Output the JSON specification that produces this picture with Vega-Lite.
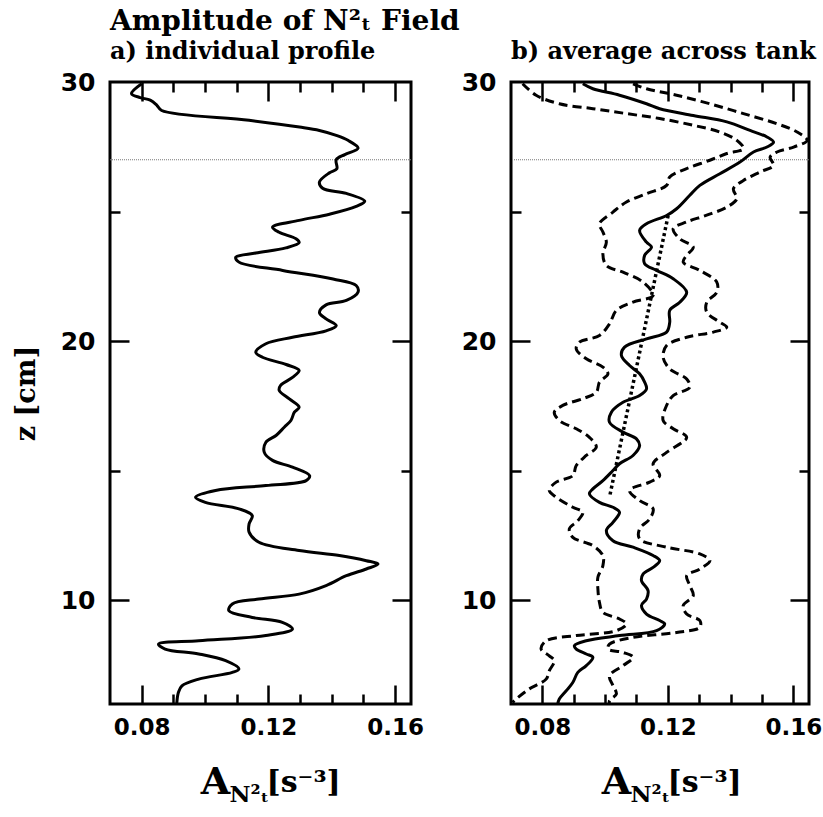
{
  "$schema": "https://vega.github.io/schema/vega-lite/v6.json",
  "padding": {"left": 10, "top": 6, "right": 0, "bottom": 0},
  "bounds": "flush",
  "spacing": 100,
  "config": {
    "view": {"stroke": "black", "strokeWidth": 3},
    "axis": {"domain": false, "grid": false, "tickColor": "black", "tickWidth": 2.5, "labelFont": "DejaVu Sans", "labelFontWeight": "bold", "labelFontSize": 23, "labelColor": "black", "titleFont": "DejaVu Serif", "titleFontWeight": "bold", "titleColor": "black", "labelFlush": false, "labelOverlap": false}
  },
  "datasets": {
    "a": [
      {"x":0.0800,"z":29.93},{"x":0.0768,"z":29.55},{"x":0.0795,"z":29.40},{"x":0.0827,"z":29.30},{"x":0.0848,"z":29.10},{"x":0.0863,"z":28.90},{"x":0.1139,"z":28.52},{"x":0.1298,"z":28.26},{"x":0.1361,"z":28.13},{"x":0.1414,"z":27.94},{"x":0.1451,"z":27.75},{"x":0.1483,"z":27.45},{"x":0.1441,"z":27.20},{"x":0.1414,"z":27.00},{"x":0.1416,"z":26.65},{"x":0.1393,"z":26.50},{"x":0.1361,"z":26.14},{"x":0.1371,"z":25.90},{"x":0.1446,"z":25.70},{"x":0.1504,"z":25.40},{"x":0.1477,"z":25.20},{"x":0.1393,"z":24.90},{"x":0.1297,"z":24.66},{"x":0.1213,"z":24.40},{"x":0.1234,"z":24.20},{"x":0.1287,"z":23.95},{"x":0.1297,"z":23.80},{"x":0.1255,"z":23.60},{"x":0.1160,"z":23.40},{"x":0.1097,"z":23.24},{"x":0.1107,"z":23.05},{"x":0.1245,"z":22.73},{"x":0.1404,"z":22.40},{"x":0.1477,"z":22.15},{"x":0.1483,"z":21.90},{"x":0.1446,"z":21.57},{"x":0.1382,"z":21.40},{"x":0.1361,"z":21.10},{"x":0.1382,"z":20.86},{"x":0.1414,"z":20.60},{"x":0.1382,"z":20.40},{"x":0.1276,"z":20.15},{"x":0.1192,"z":19.90},{"x":0.1160,"z":19.57},{"x":0.1181,"z":19.38},{"x":0.1256,"z":19.10},{"x":0.1297,"z":18.87},{"x":0.1276,"z":18.60},{"x":0.1239,"z":18.30},{"x":0.1234,"z":18.10},{"x":0.1266,"z":17.77},{"x":0.1297,"z":17.45},{"x":0.1282,"z":17.26},{"x":0.1271,"z":16.94},{"x":0.1250,"z":16.68},{"x":0.1224,"z":16.36},{"x":0.1192,"z":16.10},{"x":0.1187,"z":15.71},{"x":0.1213,"z":15.40},{"x":0.1276,"z":15.14},{"x":0.1330,"z":14.81},{"x":0.1319,"z":14.62},{"x":0.1192,"z":14.43},{"x":0.1033,"z":14.24},{"x":0.0970,"z":13.98},{"x":0.1001,"z":13.78},{"x":0.1107,"z":13.53},{"x":0.1149,"z":13.27},{"x":0.1139,"z":12.95},{"x":0.1139,"z":12.63},{"x":0.1170,"z":12.24},{"x":0.1297,"z":11.92},{"x":0.1424,"z":11.73},{"x":0.1509,"z":11.53},{"x":0.1546,"z":11.40},{"x":0.1509,"z":11.21},{"x":0.1446,"z":10.95},{"x":0.1382,"z":10.57},{"x":0.1297,"z":10.24},{"x":0.1170,"z":10.05},{"x":0.1086,"z":9.86},{"x":0.1075,"z":9.60},{"x":0.1149,"z":9.34},{"x":0.1244,"z":9.15},{"x":0.1276,"z":8.89},{"x":0.1192,"z":8.64},{"x":0.0980,"z":8.44},{"x":0.0853,"z":8.31},{"x":0.0874,"z":8.12},{"x":0.0980,"z":7.93},{"x":0.1065,"z":7.67},{"x":0.1107,"z":7.35},{"x":0.1086,"z":7.22},{"x":0.0980,"z":6.96},{"x":0.0927,"z":6.70},{"x":0.0916,"z":6.45},{"x":0.0911,"z":6.06},{"x":0.0911,"z":6.00}
    ],
    "b": [
      {"s":"mean","x":0.0929,"z":29.93},{"s":"mean","x":0.0961,"z":29.74},{"s":"mean","x":0.1046,"z":29.49},{"s":"mean","x":0.1132,"z":29.16},{"s":"mean","x":0.1174,"z":28.97},{"s":"mean","x":0.1281,"z":28.71},{"s":"mean","x":0.1388,"z":28.46},{"s":"mean","x":0.1462,"z":28.13},{"s":"mean","x":0.1516,"z":27.88},{"s":"mean","x":0.1537,"z":27.68},{"s":"mean","x":0.1516,"z":27.49},{"s":"mean","x":0.1473,"z":27.30},{"s":"mean","x":0.1430,"z":26.91},{"s":"mean","x":0.1366,"z":26.46},{"s":"mean","x":0.1302,"z":26.01},{"s":"mean","x":0.1270,"z":25.63},{"s":"mean","x":0.1228,"z":25.11},{"s":"mean","x":0.1196,"z":24.85},{"s":"mean","x":0.1132,"z":24.53},{"s":"mean","x":0.1110,"z":24.27},{"s":"mean","x":0.1132,"z":23.82},{"s":"mean","x":0.1148,"z":23.63},{"s":"mean","x":0.1126,"z":23.31},{"s":"mean","x":0.1126,"z":22.99},{"s":"mean","x":0.1164,"z":22.73},{"s":"mean","x":0.1217,"z":22.41},{"s":"mean","x":0.1260,"z":21.89},{"s":"mean","x":0.1238,"z":21.50},{"s":"mean","x":0.1206,"z":21.19},{"s":"mean","x":0.1206,"z":20.73},{"s":"mean","x":0.1196,"z":20.35},{"s":"mean","x":0.1132,"z":20.09},{"s":"mean","x":0.1062,"z":19.77},{"s":"mean","x":0.1052,"z":19.45},{"s":"mean","x":0.1078,"z":19.06},{"s":"mean","x":0.1110,"z":18.74},{"s":"mean","x":0.1126,"z":18.42},{"s":"mean","x":0.1132,"z":18.16},{"s":"mean","x":0.1110,"z":17.90},{"s":"mean","x":0.1057,"z":17.64},{"s":"mean","x":0.1020,"z":17.26},{"s":"mean","x":0.1014,"z":16.87},{"s":"mean","x":0.1057,"z":16.49},{"s":"mean","x":0.1100,"z":16.23},{"s":"mean","x":0.1110,"z":15.97},{"s":"mean","x":0.1089,"z":15.59},{"s":"mean","x":0.1046,"z":15.27},{"s":"mean","x":0.1025,"z":15.01},{"s":"mean","x":0.0993,"z":14.62},{"s":"mean","x":0.0961,"z":14.30},{"s":"mean","x":0.0950,"z":14.11},{"s":"mean","x":0.0982,"z":13.78},{"s":"mean","x":0.1025,"z":13.59},{"s":"mean","x":0.1046,"z":13.40},{"s":"mean","x":0.1025,"z":13.01},{"s":"mean","x":0.1004,"z":12.69},{"s":"mean","x":0.1025,"z":12.30},{"s":"mean","x":0.1089,"z":12.05},{"s":"mean","x":0.1153,"z":11.73},{"s":"mean","x":0.1174,"z":11.53},{"s":"mean","x":0.1153,"z":11.27},{"s":"mean","x":0.1121,"z":11.01},{"s":"mean","x":0.1116,"z":10.76},{"s":"mean","x":0.1137,"z":10.37},{"s":"mean","x":0.1132,"z":10.05},{"s":"mean","x":0.1116,"z":9.80},{"s":"mean","x":0.1132,"z":9.47},{"s":"mean","x":0.1174,"z":9.22},{"s":"mean","x":0.1190,"z":9.09},{"s":"mean","x":0.1164,"z":8.83},{"s":"mean","x":0.1046,"z":8.64},{"s":"mean","x":0.0940,"z":8.44},{"s":"mean","x":0.0902,"z":8.25},{"s":"mean","x":0.0908,"z":8.12},{"s":"mean","x":0.0940,"z":7.93},{"s":"mean","x":0.0961,"z":7.80},{"s":"mean","x":0.0940,"z":7.48},{"s":"mean","x":0.0913,"z":7.22},{"s":"mean","x":0.0897,"z":6.83},{"s":"mean","x":0.0876,"z":6.51},{"s":"mean","x":0.0854,"z":6.19},{"s":"mean","x":0.0849,"z":6.00},
      {"s":"lo","x":0.0737,"z":29.93},{"s":"lo","x":0.0780,"z":29.49},{"s":"lo","x":0.0854,"z":29.16},{"s":"lo","x":0.0961,"z":28.97},{"s":"lo","x":0.1068,"z":28.78},{"s":"lo","x":0.1174,"z":28.59},{"s":"lo","x":0.1281,"z":28.33},{"s":"lo","x":0.1366,"z":28.07},{"s":"lo","x":0.1420,"z":27.75},{"s":"lo","x":0.1441,"z":27.43},{"s":"lo","x":0.1388,"z":27.24},{"s":"lo","x":0.1334,"z":26.98},{"s":"lo","x":0.1260,"z":26.66},{"s":"lo","x":0.1206,"z":26.33},{"s":"lo","x":0.1196,"z":26.01},{"s":"lo","x":0.1132,"z":25.69},{"s":"lo","x":0.1068,"z":25.37},{"s":"lo","x":0.1025,"z":24.98},{"s":"lo","x":0.0982,"z":24.53},{"s":"lo","x":0.0993,"z":24.21},{"s":"lo","x":0.1004,"z":23.82},{"s":"lo","x":0.0993,"z":23.37},{"s":"lo","x":0.1004,"z":22.92},{"s":"lo","x":0.1057,"z":22.66},{"s":"lo","x":0.1121,"z":22.28},{"s":"lo","x":0.1153,"z":21.76},{"s":"lo","x":0.1089,"z":21.51},{"s":"lo","x":0.1036,"z":21.19},{"s":"lo","x":0.1014,"z":20.67},{"s":"lo","x":0.0982,"z":20.22},{"s":"lo","x":0.0918,"z":19.96},{"s":"lo","x":0.0908,"z":19.70},{"s":"lo","x":0.0940,"z":19.32},{"s":"lo","x":0.0993,"z":19.00},{"s":"lo","x":0.1009,"z":18.74},{"s":"lo","x":0.0982,"z":18.42},{"s":"lo","x":0.0972,"z":18.03},{"s":"lo","x":0.0929,"z":17.78},{"s":"lo","x":0.0865,"z":17.52},{"s":"lo","x":0.0838,"z":17.26},{"s":"lo","x":0.0854,"z":16.94},{"s":"lo","x":0.0908,"z":16.62},{"s":"lo","x":0.0950,"z":16.29},{"s":"lo","x":0.0972,"z":15.91},{"s":"lo","x":0.0940,"z":15.59},{"s":"lo","x":0.0908,"z":15.20},{"s":"lo","x":0.0897,"z":14.81},{"s":"lo","x":0.0844,"z":14.56},{"s":"lo","x":0.0822,"z":14.24},{"s":"lo","x":0.0844,"z":13.98},{"s":"lo","x":0.0897,"z":13.59},{"s":"lo","x":0.0929,"z":13.40},{"s":"lo","x":0.0913,"z":13.07},{"s":"lo","x":0.0886,"z":12.76},{"s":"lo","x":0.0897,"z":12.43},{"s":"lo","x":0.0961,"z":12.11},{"s":"lo","x":0.0993,"z":11.73},{"s":"lo","x":0.0993,"z":11.34},{"s":"lo","x":0.0977,"z":10.89},{"s":"lo","x":0.0977,"z":10.44},{"s":"lo","x":0.0982,"z":9.92},{"s":"lo","x":0.0993,"z":9.54},{"s":"lo","x":0.1046,"z":9.28},{"s":"lo","x":0.1068,"z":9.09},{"s":"lo","x":0.1036,"z":8.83},{"s":"lo","x":0.0908,"z":8.64},{"s":"lo","x":0.0812,"z":8.44},{"s":"lo","x":0.0796,"z":8.12},{"s":"lo","x":0.0822,"z":7.86},{"s":"lo","x":0.0838,"z":7.67},{"s":"lo","x":0.0822,"z":7.28},{"s":"lo","x":0.0812,"z":6.96},{"s":"lo","x":0.0758,"z":6.58},{"s":"lo","x":0.0716,"z":6.19},{"s":"lo","x":0.0705,"z":6.06},
      {"s":"hi","x":0.1089,"z":29.93},{"s":"hi","x":0.1132,"z":29.74},{"s":"hi","x":0.1228,"z":29.49},{"s":"hi","x":0.1334,"z":29.16},{"s":"hi","x":0.1441,"z":28.78},{"s":"hi","x":0.1548,"z":28.39},{"s":"hi","x":0.1612,"z":28.07},{"s":"hi","x":0.1644,"z":27.75},{"s":"hi","x":0.1601,"z":27.49},{"s":"hi","x":0.1548,"z":27.30},{"s":"hi","x":0.1526,"z":27.10},{"s":"hi","x":0.1537,"z":26.78},{"s":"hi","x":0.1494,"z":26.53},{"s":"hi","x":0.1441,"z":26.20},{"s":"hi","x":0.1409,"z":25.88},{"s":"hi","x":0.1420,"z":25.50},{"s":"hi","x":0.1388,"z":25.17},{"s":"hi","x":0.1324,"z":24.86},{"s":"hi","x":0.1260,"z":24.60},{"s":"hi","x":0.1217,"z":24.34},{"s":"hi","x":0.1238,"z":23.95},{"s":"hi","x":0.1281,"z":23.63},{"s":"hi","x":0.1260,"z":23.31},{"s":"hi","x":0.1249,"z":23.05},{"s":"hi","x":0.1302,"z":22.73},{"s":"hi","x":0.1356,"z":22.28},{"s":"hi","x":0.1356,"z":21.89},{"s":"hi","x":0.1324,"z":21.50},{"s":"hi","x":0.1324,"z":21.12},{"s":"hi","x":0.1366,"z":20.73},{"s":"hi","x":0.1388,"z":20.54},{"s":"hi","x":0.1345,"z":20.35},{"s":"hi","x":0.1260,"z":20.15},{"s":"hi","x":0.1196,"z":19.83},{"s":"hi","x":0.1185,"z":19.38},{"s":"hi","x":0.1206,"z":18.93},{"s":"hi","x":0.1260,"z":18.54},{"s":"hi","x":0.1270,"z":18.22},{"s":"hi","x":0.1217,"z":17.90},{"s":"hi","x":0.1196,"z":17.52},{"s":"hi","x":0.1185,"z":16.94},{"s":"hi","x":0.1217,"z":16.62},{"s":"hi","x":0.1260,"z":16.29},{"s":"hi","x":0.1196,"z":15.71},{"s":"hi","x":0.1153,"z":15.27},{"s":"hi","x":0.1174,"z":14.81},{"s":"hi","x":0.1142,"z":14.56},{"s":"hi","x":0.1078,"z":14.24},{"s":"hi","x":0.1110,"z":13.85},{"s":"hi","x":0.1153,"z":13.53},{"s":"hi","x":0.1142,"z":13.14},{"s":"hi","x":0.1110,"z":12.76},{"s":"hi","x":0.1110,"z":12.37},{"s":"hi","x":0.1196,"z":12.05},{"s":"hi","x":0.1302,"z":11.79},{"s":"hi","x":0.1334,"z":11.53},{"s":"hi","x":0.1302,"z":11.21},{"s":"hi","x":0.1260,"z":10.95},{"s":"hi","x":0.1270,"z":10.57},{"s":"hi","x":0.1281,"z":10.18},{"s":"hi","x":0.1249,"z":9.80},{"s":"hi","x":0.1260,"z":9.47},{"s":"hi","x":0.1302,"z":9.22},{"s":"hi","x":0.1302,"z":8.96},{"s":"hi","x":0.1228,"z":8.76},{"s":"hi","x":0.1089,"z":8.57},{"s":"hi","x":0.1014,"z":8.31},{"s":"hi","x":0.1009,"z":8.12},{"s":"hi","x":0.1057,"z":7.99},{"s":"hi","x":0.1089,"z":7.80},{"s":"hi","x":0.1057,"z":7.48},{"s":"hi","x":0.1014,"z":7.09},{"s":"hi","x":0.1025,"z":6.71},{"s":"hi","x":0.1036,"z":6.39},{"s":"hi","x":0.1014,"z":6.13},{"s":"hi","x":0.1014,"z":6.00},
      {"s":"trend","x":0.1201,"z":24.85},{"s":"trend","x":0.1014,"z":13.98}
    ]
  },
  "hconcat": [
    {
      "width": 301, "height": 622,
      "data": {"name": "a"},
      "title": {"text": "Amplitude of N²ₜ Field", "subtitle": "a) individual profile", "anchor": "start", "frame": "group", "font": "DejaVu Serif", "fontSize": 28, "fontWeight": "bold", "color": "black", "subtitleFont": "DejaVu Serif", "subtitleFontSize": 24, "subtitleFontWeight": "bold", "subtitleColor": "black", "subtitlePadding": 4, "offset": 6},
      "resolve": {"axis": {"x": "independent", "y": "independent"}},
      "layer": [
        {
          "data": {"values": [{}]},
          "mark": {"type": "rule", "color": "#777777", "strokeWidth": 1, "strokeDash": [1, 1]},
          "encoding": {"y": {"datum": 27, "type": "quantitative", "scale": {"domain": [6, 30], "nice": false, "zero": false}, "axis": null}}
        },
        {
          "mark": {"type": "line", "color": "black", "strokeWidth": 3, "interpolate": "catmull-rom", "clip": true},
          "encoding": {
            "order": {"field": "z", "sort": "descending"},
            "x": {"field": "x", "type": "quantitative", "scale": {"domain": [0.07, 0.165], "nice": false, "zero": false}, "axis": {"orient": "bottom", "values": [0.08, 0.12, 0.16], "format": ".2f", "ticks": false, "tickSize": 0, "labelPadding": 12, "title": "A", "titleFontSize": 38, "titleAlign": "center", "titleBaseline": "alphabetic", "titleAngle": 0, "titleX": 105, "titleY": 89}},
            "y": {"field": "z", "type": "quantitative", "scale": {"domain": [6, 30], "nice": false, "zero": false}, "axis": {"orient": "left", "values": [10, 20, 30], "ticks": false, "tickSize": 0, "labelPadding": 15, "labelFontSize": 25, "title": "z [cm]", "titleFontSize": 27, "titlePadding": 20}}
          }
        },
        {
          "mark": {"type": "point", "opacity": 0},
          "encoding": {
            "x": {"field": "x", "type": "quantitative", "axis": {"orient": "bottom", "values": [0.09, 0.1, 0.11, 0.13, 0.14, 0.15], "labels": false, "tickSize": -10, "title": "N²ₜ", "titleFontSize": 23, "titleAlign": "left", "titleBaseline": "alphabetic", "titleAngle": 0, "titleX": 119, "titleY": 97}},
            "y": {"field": "z", "type": "quantitative", "axis": {"orient": "left", "values": [15, 25], "labels": false, "tickSize": -10, "title": null}}
          }
        },
        {
          "mark": {"type": "point", "opacity": 0},
          "encoding": {
            "x": {"field": "x", "type": "quantitative", "axis": {"orient": "bottom", "values": [0.08, 0.12, 0.16], "labels": false, "tickSize": -19, "title": "[s⁻³]", "titleFontSize": 30, "titleAlign": "left", "titleBaseline": "alphabetic", "titleAngle": 0, "titleX": 156, "titleY": 87}},
            "y": {"field": "z", "type": "quantitative", "axis": {"orient": "left", "values": [10, 20], "labels": false, "tickSize": -19, "title": null}}
          }
        },
        {
          "mark": {"type": "point", "opacity": 0},
          "encoding": {
            "x": {"field": "x", "type": "quantitative", "axis": {"orient": "top", "values": [0.09, 0.1, 0.11, 0.13, 0.14, 0.15], "labels": false, "tickSize": -10, "title": null}},
            "y": {"field": "z", "type": "quantitative", "axis": {"orient": "right", "values": [15, 25], "labels": false, "tickSize": -10, "title": null}}
          }
        },
        {
          "mark": {"type": "point", "opacity": 0},
          "encoding": {
            "x": {"field": "x", "type": "quantitative", "axis": {"orient": "top", "values": [0.08, 0.12, 0.16], "labels": false, "tickSize": -19, "title": null}},
            "y": {"field": "z", "type": "quantitative", "axis": {"orient": "right", "values": [10, 20], "labels": false, "tickSize": -19, "title": null}}
          }
        }
      ]
    },
    {
      "width": 298, "height": 622,
      "data": {"name": "b"},
      "title": {"text": "b) average across tank", "anchor": "start", "frame": "group", "font": "DejaVu Serif", "fontSize": 24, "fontWeight": "bold", "color": "black", "offset": 6},
      "resolve": {"axis": {"x": "independent", "y": "independent"}},
      "layer": [
        {
          "data": {"values": [{}]},
          "mark": {"type": "rule", "color": "#777777", "strokeWidth": 1, "strokeDash": [1, 1]},
          "encoding": {"y": {"datum": 27, "type": "quantitative", "scale": {"domain": [6, 30], "nice": false, "zero": false}, "axis": null}}
        },
        {
          "transform": [{"filter": "datum.s === 'lo' || datum.s === 'hi'"}],
          "mark": {"type": "line", "color": "black", "strokeWidth": 3, "strokeDash": [9, 5], "interpolate": "catmull-rom", "clip": true},
          "encoding": {
            "detail": {"field": "s"},
            "order": {"field": "z", "sort": "descending"},
            "x": {"field": "x", "type": "quantitative", "scale": {"domain": [0.07, 0.165], "nice": false, "zero": false}, "axis": null},
            "y": {"field": "z", "type": "quantitative", "scale": {"domain": [6, 30], "nice": false, "zero": false}, "axis": null}
          }
        },
        {
          "transform": [{"filter": "datum.s === 'trend'"}],
          "mark": {"type": "line", "color": "black", "strokeWidth": 3.5, "strokeDash": [3, 3], "clip": true},
          "encoding": {
            "order": {"field": "z", "sort": "descending"},
            "x": {"field": "x", "type": "quantitative", "axis": null},
            "y": {"field": "z", "type": "quantitative", "axis": null}
          }
        },
        {
          "transform": [{"filter": "datum.s === 'mean'"}],
          "mark": {"type": "line", "color": "black", "strokeWidth": 3, "interpolate": "catmull-rom", "clip": true},
          "encoding": {
            "order": {"field": "z", "sort": "descending"},
            "x": {"field": "x", "type": "quantitative", "axis": {"orient": "bottom", "values": [0.08, 0.12, 0.16], "format": ".2f", "ticks": false, "tickSize": 0, "labelPadding": 12, "title": "A", "titleFontSize": 38, "titleAlign": "center", "titleBaseline": "alphabetic", "titleAngle": 0, "titleX": 105, "titleY": 89}},
            "y": {"field": "z", "type": "quantitative", "axis": {"orient": "left", "values": [10, 20, 30], "ticks": false, "tickSize": 0, "labelPadding": 15, "labelFontSize": 25, "title": null}}
          }
        },
        {
          "mark": {"type": "point", "opacity": 0},
          "encoding": {
            "x": {"field": "x", "type": "quantitative", "axis": {"orient": "bottom", "values": [0.09, 0.1, 0.11, 0.13, 0.14, 0.15], "labels": false, "tickSize": -10, "title": "N²ₜ", "titleFontSize": 23, "titleAlign": "left", "titleBaseline": "alphabetic", "titleAngle": 0, "titleX": 119, "titleY": 97}},
            "y": {"field": "z", "type": "quantitative", "axis": {"orient": "left", "values": [15, 25], "labels": false, "tickSize": -10, "title": null}}
          }
        },
        {
          "mark": {"type": "point", "opacity": 0},
          "encoding": {
            "x": {"field": "x", "type": "quantitative", "axis": {"orient": "bottom", "values": [0.08, 0.12, 0.16], "labels": false, "tickSize": -19, "title": "[s⁻³]", "titleFontSize": 30, "titleAlign": "left", "titleBaseline": "alphabetic", "titleAngle": 0, "titleX": 156, "titleY": 87}},
            "y": {"field": "z", "type": "quantitative", "axis": {"orient": "left", "values": [10, 20], "labels": false, "tickSize": -19, "title": null}}
          }
        },
        {
          "mark": {"type": "point", "opacity": 0},
          "encoding": {
            "x": {"field": "x", "type": "quantitative", "axis": {"orient": "top", "values": [0.09, 0.1, 0.11, 0.13, 0.14, 0.15], "labels": false, "tickSize": -10, "title": null}},
            "y": {"field": "z", "type": "quantitative", "axis": {"orient": "right", "values": [15, 25], "labels": false, "tickSize": -10, "title": null}}
          }
        },
        {
          "mark": {"type": "point", "opacity": 0},
          "encoding": {
            "x": {"field": "x", "type": "quantitative", "axis": {"orient": "top", "values": [0.08, 0.12, 0.16], "labels": false, "tickSize": -19, "title": null}},
            "y": {"field": "z", "type": "quantitative", "axis": {"orient": "right", "values": [10, 20], "labels": false, "tickSize": -19, "title": null}}
          }
        }
      ]
    }
  ]
}
